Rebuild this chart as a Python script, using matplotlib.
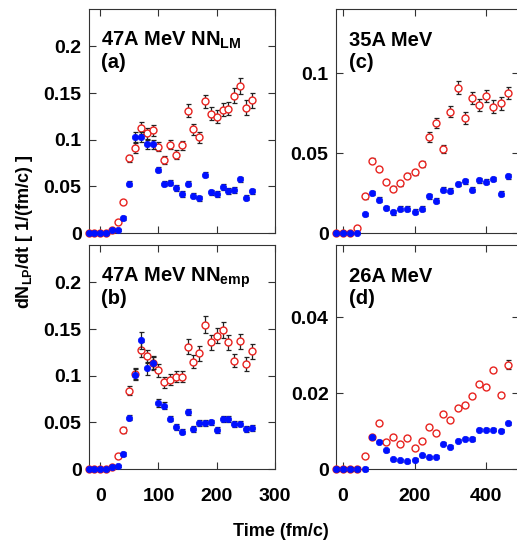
import numpy as np
import matplotlib
matplotlib.use("Agg")
import matplotlib.pyplot as plt

plt.rcParams['font.family'] = ['Liberation Sans', 'DejaVu Sans']
plt.rcParams['font.weight'] = 'bold'
plt.rcParams['mathtext.fontset'] = 'custom'
plt.rcParams['mathtext.rm'] = 'Liberation Sans:bold'
plt.rcParams['mathtext.bf'] = 'Liberation Sans:bold'
plt.rcParams['mathtext.it'] = 'Liberation Sans:bold'

# ---------------- data ----------------
t_47 = list(range(-20, 270, 10))
t_low = list(range(-20, 470, 20))

a_blue = [0, 0, 0, 0, 0.003, 0.0036, 0.016, 0.053, 0.103, 0.103, 0.095, 0.095, 0.068, 0.053,
          0.054, 0.048, 0.042, 0.053, 0.040, 0.037, 0.0625, 0.0436, 0.042, 0.0496, 0.045,
          0.046, 0.0575, 0.038, 0.0446]
a_red = [0, 0, 0, 0, 0.0036, 0.012, 0.033, 0.080, 0.091, 0.1125, 0.107, 0.110, 0.0925, 0.078,
         0.0946, 0.084, 0.094, 0.131, 0.111, 0.1025, 0.141, 0.128, 0.1246, 0.132, 0.133,
         0.147, 0.1575, 0.134, 0.142]
a_blue_err = [0, 0, 0, 0, 0.001, 0.001, 0.002, 0.003, 0.005, 0.005, 0.005, 0.005, 0.003, 0.003,
              0.003, 0.003, 0.003, 0.003, 0.003, 0.003, 0.003, 0.003, 0.003, 0.003, 0.003,
              0.003, 0.003, 0.003, 0.003]
a_red_err = [0, 0, 0, 0, 0.001, 0.001, 0.002, 0.004, 0.005, 0.006, 0.006, 0.006, 0.005, 0.004,
             0.005, 0.005, 0.005, 0.007, 0.006, 0.006, 0.007, 0.007, 0.007, 0.007, 0.007,
             0.008, 0.009, 0.008, 0.008]

b_blue = [0, 0, 0, 0, 0.002, 0.003, 0.016, 0.055, 0.101, 0.138, 0.108, 0.1136, 0.0707, 0.068,
          0.054, 0.045, 0.040, 0.061, 0.043, 0.049, 0.049, 0.050, 0.042, 0.0536, 0.0536,
          0.048, 0.0486, 0.043, 0.044]
b_red = [0, 0, 0, 0, 0.002, 0.0136, 0.042, 0.084, 0.102, 0.128, 0.121, 0.1136, 0.106, 0.093,
         0.0957, 0.099, 0.099, 0.131, 0.115, 0.124, 0.1546, 0.136, 0.143, 0.149, 0.136,
         0.116, 0.137, 0.1125, 0.126]
b_blue_err = [0, 0, 0, 0, 0.001, 0.001, 0.002, 0.003, 0.006, 0.009, 0.007, 0.006, 0.004, 0.004,
              0.003, 0.003, 0.003, 0.003, 0.003, 0.003, 0.003, 0.003, 0.003, 0.003, 0.003,
              0.003, 0.003, 0.003, 0.003]
b_red_err = [0, 0, 0, 0, 0.001, 0.002, 0.003, 0.005, 0.006, 0.008, 0.007, 0.007, 0.007, 0.006,
             0.006, 0.006, 0.006, 0.008, 0.007, 0.008, 0.009, 0.008, 0.008, 0.009, 0.008,
             0.007, 0.008, 0.007, 0.008]

c_blue = [0, 0, 0, 0, 0.0117, 0.025, 0.0208, 0.0156, 0.013, 0.0152, 0.0152, 0.0133, 0.0152,
          0.0229, 0.0202, 0.027, 0.0265, 0.0306, 0.0323, 0.027, 0.033, 0.032, 0.0338,
          0.0246, 0.0354]
c_red = [0, 0, 0, 0.003, 0.0229, 0.0452, 0.040, 0.0319, 0.0277, 0.031, 0.0358, 0.038, 0.043,
         0.060, 0.0688, 0.0527, 0.0758, 0.0908, 0.0719, 0.0844, 0.080, 0.0856, 0.079,
         0.081, 0.0875]
c_blue_err = [0, 0, 0, 0, 0.001, 0.0015, 0.0015, 0.0015, 0.0015, 0.0015, 0.0015, 0.0015, 0.0015,
              0.0015, 0.0015, 0.0015, 0.0015, 0.0015, 0.0015, 0.0015, 0.0015, 0.0015, 0.0015,
              0.0015, 0.0015]
c_red_err = [0, 0, 0, 0.001, 0.0015, 0.0015, 0.0015, 0.0015, 0.0015, 0.0015, 0.0015, 0.0015,
             0.002, 0.003, 0.003, 0.0025, 0.0035, 0.004, 0.0035, 0.004, 0.0035, 0.004, 0.004,
             0.004, 0.004]

d_blue = [0, 0, 0, 0, 0, 0.0084, 0.0072, 0.0049, 0.0026, 0.0023, 0.0021, 0.0025, 0.0036,
          0.0031, 0.0032, 0.0066, 0.0058, 0.0074, 0.008, 0.0079, 0.0103, 0.0104, 0.0104,
          0.0101, 0.012]
d_red = [0, 0, 0, 0, 0.0033, 0.0084, 0.012, 0.0072, 0.0084, 0.0066, 0.0082, 0.0055, 0.0075,
         0.011, 0.0095, 0.0144, 0.013, 0.016, 0.0169, 0.0193, 0.0223, 0.0216, 0.026,
         0.0196, 0.0275]
d_blue_err = [0.0004] * 25
d_red_err = [0.0005] * 24 + [0.0012]

panels = [
    ("a", t_47, a_blue, a_blue_err, a_red, a_red_err, (-20, 300), (0, 0.24),
     [0, 0.05, 0.1, 0.15, 0.2], ["0", "0.05", "0.1", "0.15", "0.2"], [0, 100, 200, 300],
     r"47A MeV NN$_{\mathregular{LM}}$"),
    ("b", t_47, b_blue, b_blue_err, b_red, b_red_err, (-20, 300), (0, 0.24),
     [0, 0.05, 0.1, 0.15, 0.2], ["0", "0.05", "0.1", "0.15", "0.2"], [0, 100, 200, 300],
     r"47A MeV NN$_{\mathregular{emp}}$"),
    ("c", t_low, c_blue, c_blue_err, c_red, c_red_err, (-21, 490), (0, 0.14),
     [0, 0.05, 0.1], ["0", "0.05", "0.1"], [0, 200, 400], "35A MeV"),
    ("d", t_low, d_blue, d_blue_err, d_red, d_red_err, (-21, 490), (0, 0.059),
     [0, 0.02, 0.04], ["0", "0.02", "0.04"], [0, 200, 400], "26A MeV"),
]

W, H = 517, 543
fig = plt.figure(figsize=(W / 100, H / 100), dpi=100)
fig.patch.set_facecolor("white")

boxes = {
    "a": (88.5, 275.0, 9, 233),
    "b": (88.5, 275.0, 245, 469),
    "c": (335.5, 518.5, 9, 233),
    "d": (335.5, 518.5, 245, 469),
}

for (key, t, blue, berr, red, rerr, xl, yl, yt, ytl, xt, title) in panels:
    x0, x1, y0, y1 = boxes[key]
    ax = fig.add_axes([x0 / W, 1 - y1 / H, (x1 - x0) / W, (y1 - y0) / H])
    ax.errorbar(t, red, yerr=rerr, fmt="none", ecolor="#222222", elinewidth=0.9,
                capsize=1.8, capthick=0.9, zorder=2, clip_on=False)
    ax.plot(t, red, "o", mfc="white", mec="#e8231f", ms=5.0, mew=1.0,
            zorder=3, clip_on=False)
    ax.errorbar(t, blue, yerr=berr, fmt="none", ecolor="#222222", elinewidth=0.9,
                capsize=1.8, capthick=0.9, zorder=4, clip_on=False)
    ax.plot(t, blue, "o", color="#0010ff", ms=4.6, mec="#0010ff", mew=0.5,
            zorder=5, clip_on=False)
    ax.set_xlim(*xl)
    ax.set_ylim(*yl)
    ax.set_yticks(yt)
    ax.set_yticklabels(ytl)
    ax.set_xticks(xt)
    ax.tick_params(direction="in", length=5, width=0.8, top=True, right=True,
                   labelsize=14, color="#333333")
    ax.tick_params(axis="y", pad=5)
    ax.tick_params(axis="x", pad=14)
    if key in ("a", "c"):
        ax.set_xticklabels([])
    for s in ax.spines.values():
        s.set_linewidth(0.8)
        s.set_color("#333333")
    ax.text(0.068 if key in ("a", "b") else 0.075, 0.836, title, transform=ax.transAxes,
            fontsize=14.5, fontweight="bold", ha="left", va="baseline")
    ax.text(0.068 if key in ("a", "b") else 0.075, 0.737, f"({key})", transform=ax.transAxes,
            fontsize=14.5, fontweight="bold", ha="left", va="baseline")

fig.text(25 / W, 1 - 232 / H, r"dN$_{\mathregular{LP}}$/dt [ 1/(fm/c) ]", rotation=90,
         fontsize=13, fontweight="bold", ha="center", va="center")
fig.text(281 / W, 1 - 532 / H, "Time (fm/c)", fontsize=13, fontweight="bold",
         ha="center", va="center")

fig.savefig("out.png", dpi=100, facecolor="white")
